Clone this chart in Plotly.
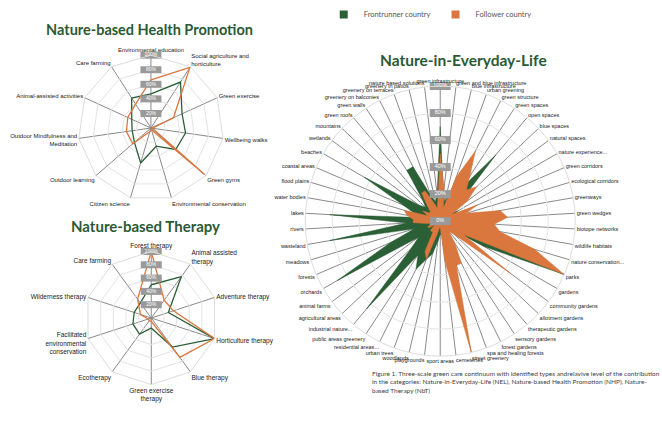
import plotly.graph_objects as go

GREEN = "#2b5f36"
ORANGE = "#d9773f"
TITLE = "#2a5a33"
BOX = "#9a9a9a"

# ---------------- Nature-based Health Promotion ----------------
nhp_cats = ["Environmental education", "Social agriculture and<br>horticulture", "Green exercise",
            "Wellbeing walks", "Green gyms", "Environmental conservation", "Citizen science",
            "Outdoor learning", "Outdoor Mindfulness and<br>Meditation", "Animal-assisted activities",
            "Care farming"]
nhp_front = [47, 75, 47, 48, 45, 26, 50, 30, 26, 29, 49]
nhp_follow = [66, 99, 34, 2, 97, 3, 5, 33, 34, 35, 39]

# ---------------- Nature-based Therapy ----------------
nbt_cats = ["Forest therapy", "Animal assisted<br>therapy", "Adventure therapy", "Horticulture therapy",
            "Blue therapy", "Green exercise<br>therapy", "Ecotherapy",
            "Facilitated<br>environmental<br>conservation", "Wilderness therapy", "Care farming"]
nbt_front = [50, 77, 27, 100, 54, 15, 30, 29, 27, 28]
nbt_follow = [100, 33, 35, 100, 73, 5, 5, 5, 17, 35]

# ---------------- Nature-in-Everyday-Life ----------------
nel_cats = ["green infrastructure", "green and blue infrastructure", "blue infrastructure", "urban greening",
            "green structure", "green spaces", "open spaces", "blue spaces", "natural spaces",
            "nature experience...", "green corridors", "ecological corridors", "greenways", "green wedges",
            "biotope networks", "wildlife habitats", "nature conservation...", "parks", "gardens",
            "community gardens", "allotment gardens", "therapeutic gardens", "sensory gardens",
            "forest gardens", "spa and healing forests", "street greenery", "cemeteries", "sport areas",
            "playgrounds", "woodlands", "urban trees", "residential areas...", "public areas greenery",
            "industrial nature...", "agricultural areas", "animal farms", "orchards", "forests", "meadows",
            "wasteland", "rivers", "lakes", "water bodies", "flood plains", "coastal areas", "beaches",
            "wetlands", "mountains", "green roofs", "green walls", "greenery on balconies",
            "greenery on terraces", "greenery in patios", "nature based solutions"]
nel_front = [70, 20, 15, 25, 45, 30, 64, 20, 10, 15, 10, 5, 10, 5, 10, 15, 30, 100, 38, 10, 5, 5, 10,
             10, 10, 15, 10, 10, 15, 25, 30, 40, 30, 85, 30, 20, 88, 40, 20, 83, 25, 82, 15, 20, 30,
             65, 20, 15, 20, 45, 45, 20, 15, 20]
nel_follow = [50, 25, 10, 35, 58, 40, 30, 37, 25, 10, 30, 20, 45, 50, 40, 45, 73, 100, 20, 65, 15, 10,
              20, 35, 35, 100, 30, 5, 5, 10, 30, 25, 10, 10, 10, 5, 10, 10, 5, 10, 20, 20, 25, 28, 10,
              15, 10, 10, 15, 25, 25, 15, 10, 15]

radial_ticks = [0, 20, 40, 60, 80, 100]
radial_text = ["0%", "20%", "40%", "60%", "80%", "100%"]

LABEL_FONT = "Liberation Sans Narrow, Arial Narrow, Liberation Sans"


def closed(v):
    return list(v) + [v[0]]


fig = go.Figure()

# NEL (filled)
fig.add_trace(go.Scatterpolar(r=closed(nel_front), theta=closed(nel_cats), mode="lines", fill="toself",
                              line=dict(color=GREEN, width=0.5), fillcolor=GREEN,
                              subplot="polar3", showlegend=False))
fig.add_trace(go.Scatterpolar(r=closed(nel_follow), theta=closed(nel_cats), mode="lines", fill="toself",
                              line=dict(color=ORANGE, width=0.5), fillcolor=ORANGE,
                              subplot="polar3", showlegend=False))
# legend entries (small squares)
fig.add_trace(go.Scatterpolar(r=[None], theta=[None], mode="markers", name="Frontrunner country",
                              marker=dict(symbol="square", size=8, color=GREEN), subplot="polar3"))
fig.add_trace(go.Scatterpolar(r=[None], theta=[None], mode="markers", name="Follower country",
                              marker=dict(symbol="square", size=8, color=ORANGE), subplot="polar3"))

# NHP
fig.add_trace(go.Scatterpolar(r=closed(nhp_front), theta=closed(nhp_cats), mode="lines",
                              line=dict(color=GREEN, width=1.3), subplot="polar", showlegend=False))
fig.add_trace(go.Scatterpolar(r=closed(nhp_follow), theta=closed(nhp_cats), mode="lines",
                              line=dict(color=ORANGE, width=1.3), subplot="polar", showlegend=False))
# NbT
fig.add_trace(go.Scatterpolar(r=closed(nbt_front), theta=closed(nbt_cats), mode="lines",
                              line=dict(color=GREEN, width=1.3), subplot="polar2", showlegend=False))
fig.add_trace(go.Scatterpolar(r=closed(nbt_follow), theta=closed(nbt_cats), mode="lines",
                              line=dict(color=ORANGE, width=1.3), subplot="polar2", showlegend=False))

# radial tick labels as grey boxes on the first spoke
for sp, cats, w, fs in (("polar", nhp_cats, 7, 5), ("polar2", nbt_cats, 7, 5), ("polar3", nel_cats, 8, 5.5)):
    fig.add_trace(go.Scatterpolar(r=radial_ticks, theta=[cats[0]] * len(radial_ticks), mode="markers+text",
                                  text=radial_text, textposition="middle center",
                                  textfont=dict(size=fs, color="white", family="Liberation Sans"),
                                  marker=dict(symbol="line-ew", size=15, color=BOX,
                                              line=dict(color=BOX, width=w)),
                                  subplot=sp, showlegend=False, hoverinfo="skip"))


def polar_cfg(x, y, label_size, gridshape):
    return dict(
        domain=dict(x=x, y=y),
        bgcolor="white",
        gridshape=gridshape,
        angularaxis=dict(direction="clockwise", rotation=90,
                         tickfont=dict(size=label_size, color="#222", family=LABEL_FONT),
                         gridcolor="#8a8a8a", gridwidth=0.6, linecolor="#dddddd", linewidth=1,
                         ticks="", showline=True),
        radialaxis=dict(range=[0, 100], tickvals=radial_ticks, angle=90, showticklabels=False,
                        showline=False, ticks="", gridcolor="#e3e3e3"),
    )


fig.update_layout(
    width=662, height=426,
    margin=dict(l=0, r=0, t=0, b=0, autoexpand=False),
    paper_bgcolor="white",
    font=dict(family="Liberation Sans", color="#333"),
    polar=polar_cfg([0.118, 0.338], [0.528, 0.871], 6, "linear"),
    polar2=polar_cfg([0.128, 0.329], [0.096, 0.411], 6.5, "linear"),
    polar3=polar_cfg([0.461, 0.869], [0.164, 0.798], 5.5, "circular"),
    legend=dict(orientation="h", x=0.489, y=1.0, xanchor="left", yanchor="top",
                font=dict(size=7.5, color="#555", family="Lato, Liberation Sans"),
                itemwidth=30, bgcolor="rgba(0,0,0,0)"),
    annotations=[
        dict(text="<b>Nature-based Health Promotion</b>", x=0.385, y=0.93, xref="paper", yref="paper",
             xanchor="right", yanchor="middle", showarrow=False,
             font=dict(size=14.5, color=TITLE, family="Lato, Open Sans")),
        dict(text="<b>Nature-based Therapy</b>", x=0.335, y=0.47, xref="paper", yref="paper",
             xanchor="right", yanchor="middle", showarrow=False,
             font=dict(size=15, color=TITLE, family="Lato, Open Sans")),
        dict(text="<b>Nature-in-Everyday-Life</b>", x=0.571, y=0.86, xref="paper", yref="paper",
             xanchor="left", yanchor="middle", showarrow=False,
             font=dict(size=15.5, color=TITLE, family="Lato, Open Sans")),
        dict(text="Figure 1. Three-scale green care continuum with identified types andrelavive level of the contribution<br>"
                  "in the categories: Nature-in-Everyday-Life (NEL), Nature-based Health Promotion (NHP), Nature-<br>"
                  "based Therapy (NbT)",
             x=0.559, y=0.137, xref="paper", yref="paper", xanchor="left", yanchor="top", align="left",
             showarrow=False, font=dict(size=6.5, color="#444", family="Lato, Liberation Sans")),
    ],
)

fig.write_html("out.html", config={"displayModeBar": False},
               post_script="document.body.style.margin='0';document.body.style.overflow='hidden';")
